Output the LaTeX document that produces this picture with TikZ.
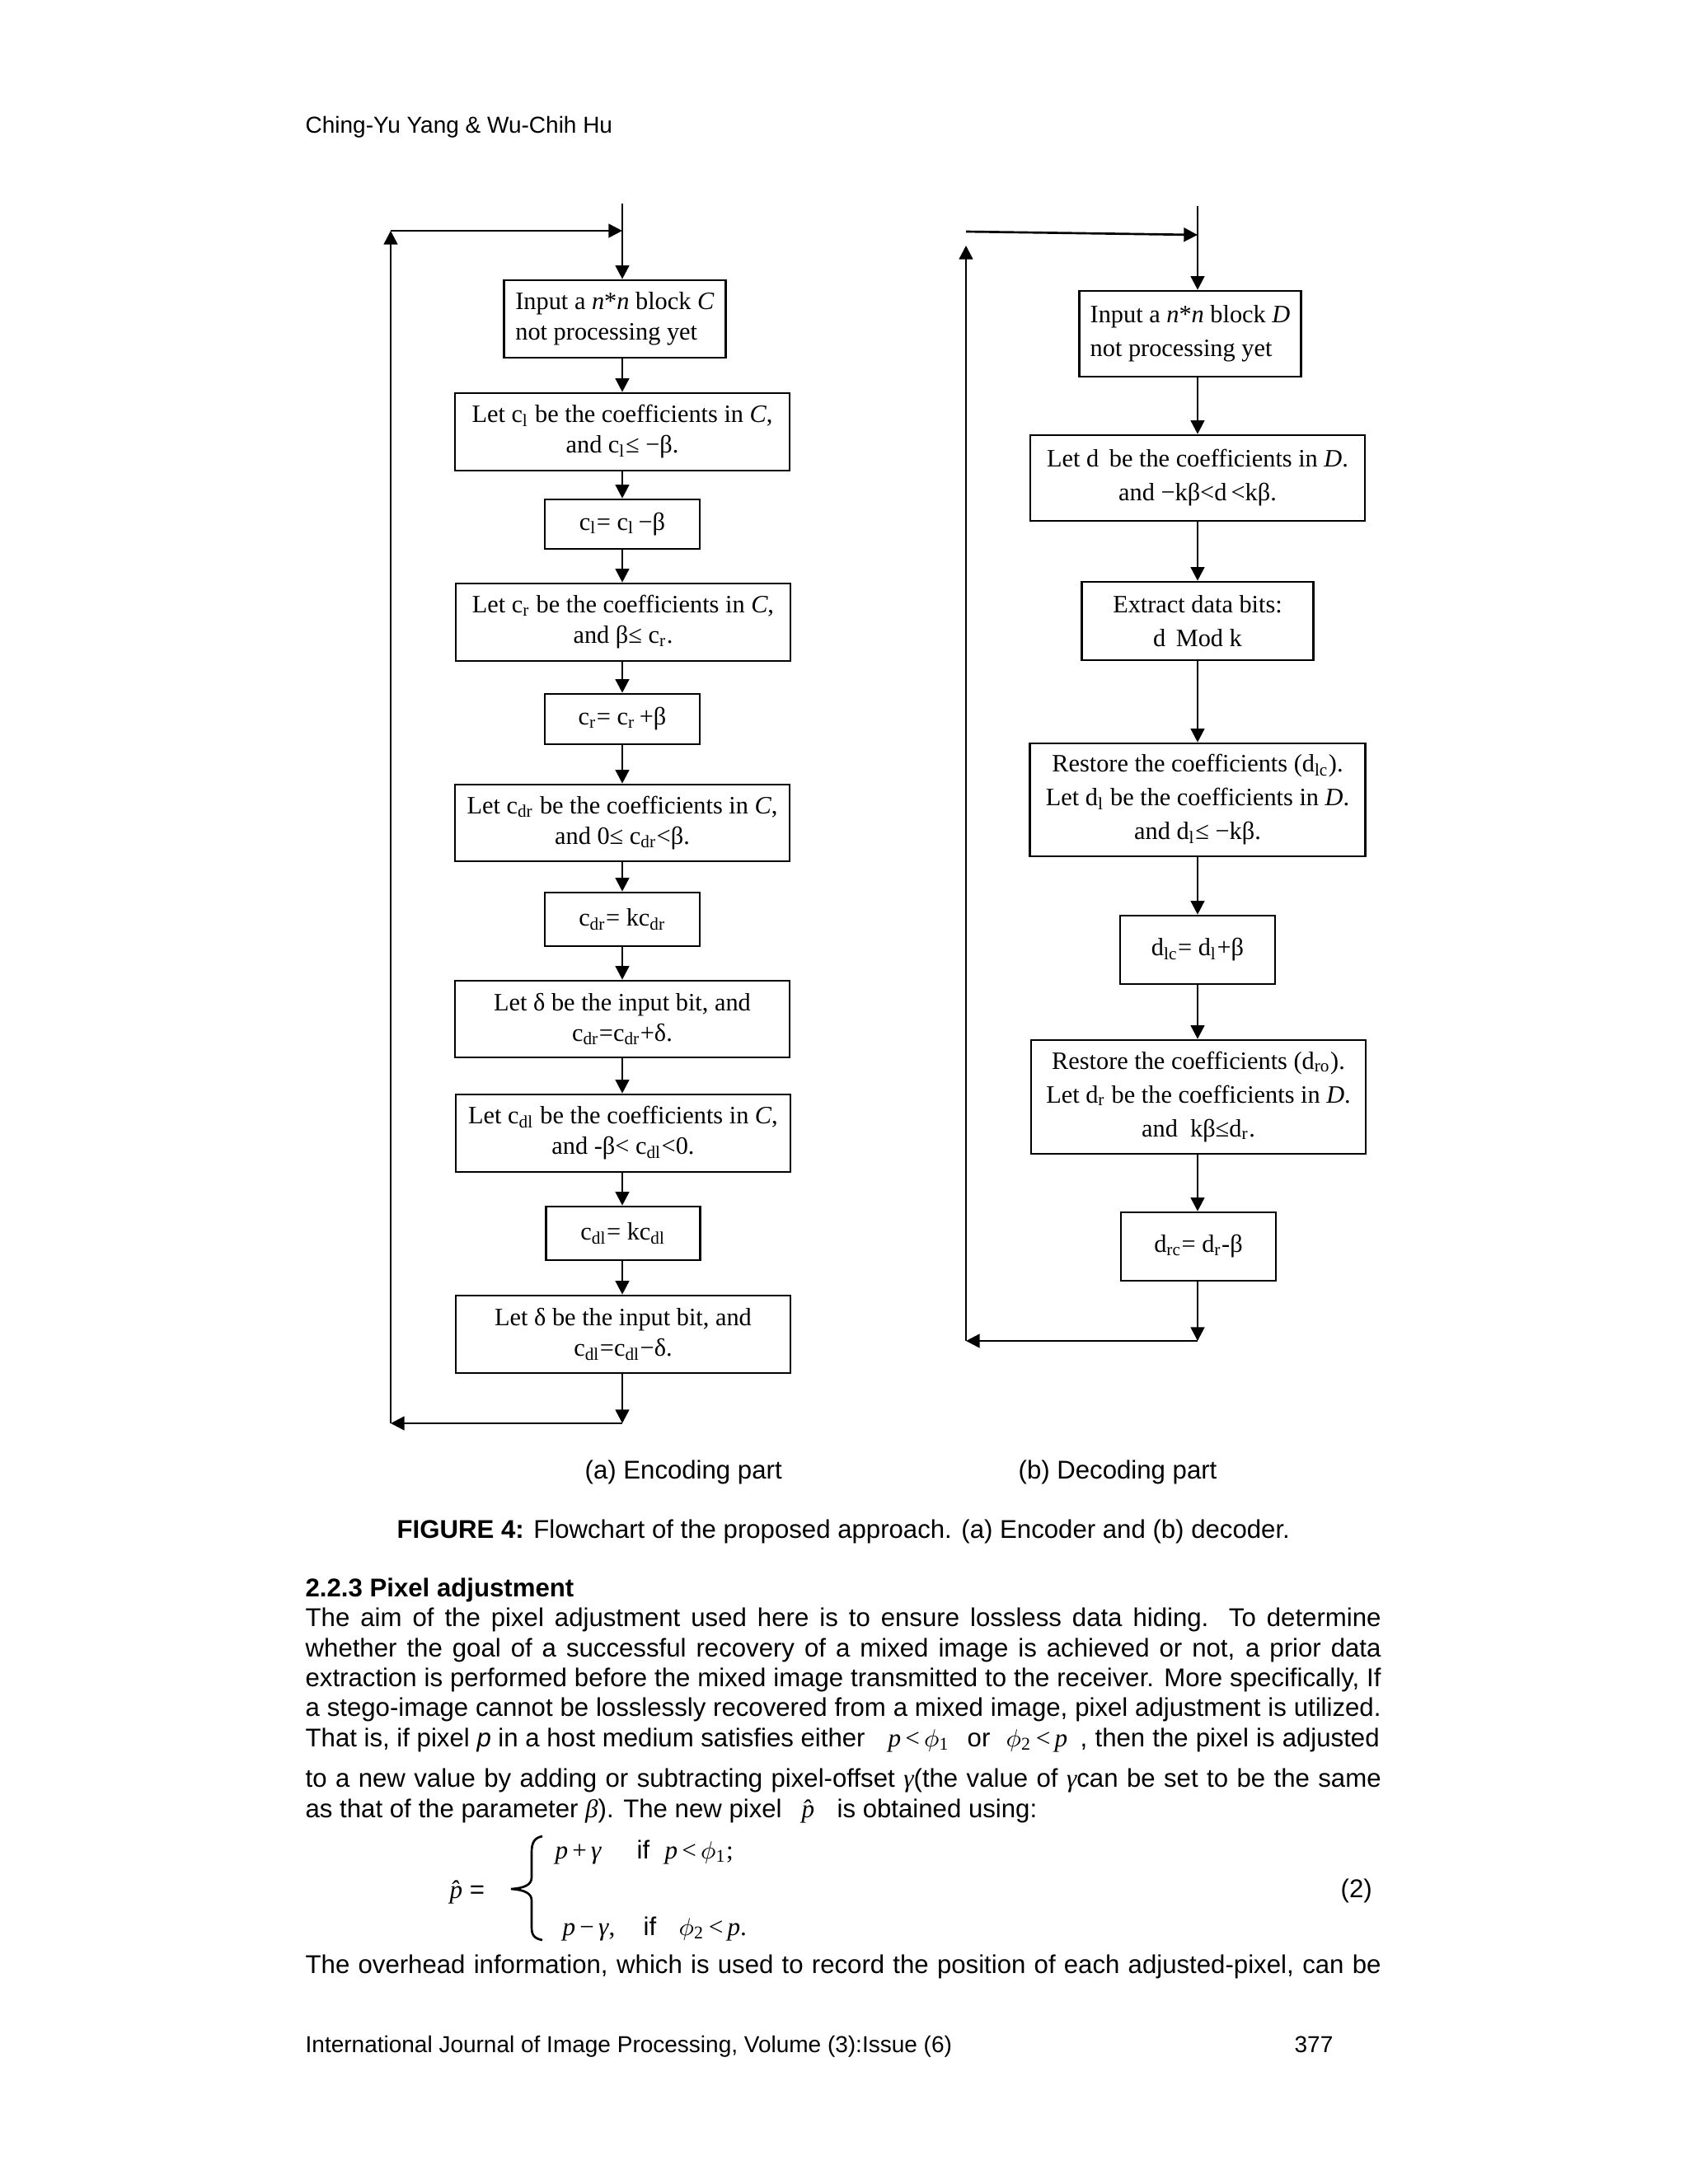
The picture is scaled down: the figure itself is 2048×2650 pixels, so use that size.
\documentclass[tikz,border=0pt]{standalone}
\usepackage{fontspec}
\setmainfont{Liberation Sans}
\newfontfamily\serif{Liberation Serif}
\usetikzlibrary{arrows.meta}
\newcommand\tsit[1]{{\serif\itshape #1}}
\newcommand\tsrm[1]{{\serif #1}}
\newcommand\tphi{\ensuremath{\phi}}
\tikzset{
 bx/.style 2 args={draw, line width=0.8pt, minimum width=#1*0.3pt, minimum height=#2*0.3pt, inner sep=0pt, align=center},
 lf/.style={font=\serif\fontsize{9.1}{11.1}\selectfont},
 rf/.style={font=\serif\fontsize{9.1}{12.3}\selectfont},
 arr/.style={line width=0.8pt, -{Triangle[length=5pt,width=5pt]}},
 ln/.style={line width=0.8pt},
 body/.style={inner sep=0pt, anchor=base west, font=\fontsize{9.35}{11}\selectfont},
 smalltxt/.style={inner sep=0pt, anchor=base west, font=\fontsize{8.4}{10}\selectfont},
}
\begin{document}
\begin{tikzpicture}[x=0.3pt,y=-0.3pt]
\fill[white] (0,0) rectangle (2048,2650);
\useasboundingbox (0,0) rectangle (2048,2650);

% header
\node[smalltxt] (hdr) at (370,161) {Ching-Yu Yang \& Wu-Chih Hu};

% ---------------- left flowchart ----------------
\node[bx={269}{94}, lf, align=left] (B1) at (746,387) {Input a \textit{n}*\textit{n} block \textit{C}\\not processing yet};
\node[bx={406}{94}, lf] (B2) at (755,524) {Let c\textsubscript{l} be the coefficients in \textit{C},\\and c\textsubscript{l}≤ −β.};
\node[bx={188}{60}, lf] (B3) at (755,636) {c\textsubscript{l}=\ c\textsubscript{l}\,−β};
\node[bx={406}{94}, lf] (B4) at (756,755) {Let c\textsubscript{r} be the coefficients in \textit{C},\\and β≤ c\textsubscript{r}.};
\node[bx={188}{61}, lf] (B5) at (755,872.5) {c\textsubscript{r}=\ c\textsubscript{r}\,+β};
\node[bx={406}{93}, lf] (B6) at (755,998.5) {Let c\textsubscript{dr} be the coefficients in \textit{C},\\and 0≤ c\textsubscript{dr}<β.};
\node[bx={188}{65}, lf] (B7) at (755,1115.5) {c\textsubscript{dr}=\ kc\textsubscript{dr}};
\node[bx={406}{93}, lf] (B8) at (755,1236.5) {Let δ be the input bit, and\\c\textsubscript{dr}=c\textsubscript{dr}+δ.};
\node[bx={406}{94}, lf] (B9) at (756,1375) {Let c\textsubscript{dl} be the coefficients in \textit{C},\\and -β< c\textsubscript{dl}<0.};
\node[bx={187}{65}, lf] (B10) at (756,1496.5) {c\textsubscript{dl}=\ kc\textsubscript{dl}};
\node[bx={406}{94}, lf] (B11) at (756,1619) {Let δ be the input bit, and\\c\textsubscript{dl}=c\textsubscript{dl}−δ.};

\coordinate (Ltop) at (755,247);
\coordinate (Lin) at (755,280);
\coordinate (Ltl) at (474,280);
\coordinate (Lbot) at (755,1727);
\coordinate (Lbl) at (474,1727);

\draw[arr] (Ltop) -- (B1.north -| Ltop);
\draw[arr] (B1.south -| Ltop) -- (B2.north -| Ltop);
\draw[arr] (B2.south -| Ltop) -- (B3.north -| Ltop);
\draw[arr] (B3.south -| Ltop) -- (B4.north -| Ltop);
\draw[arr] (B4.south -| Ltop) -- (B5.north -| Ltop);
\draw[arr] (B5.south -| Ltop) -- (B6.north -| Ltop);
\draw[arr] (B6.south -| Ltop) -- (B7.north -| Ltop);
\draw[arr] (B7.south -| Ltop) -- (B8.north -| Ltop);
\draw[arr] (B8.south -| Ltop) -- (B9.north -| Ltop);
\draw[arr] (B9.south -| Ltop) -- (B10.north -| Ltop);
\draw[arr] (B10.south -| Ltop) -- (B11.north -| Ltop);
\draw[arr] (B11.south -| Ltop) -- (Lbot);
\draw[arr] (Lbot) -- (Lbl);
\draw[arr] (Lbl) -- (Ltl);
\draw[arr] (Ltl) -- (Lin);

% ---------------- right flowchart ----------------
\node[bx={269}{104}, rf, align=left] (R1) at (1444,405) {Input a \textit{n}*\textit{n} block \textit{D}\\not processing yet};
\node[bx={406}{104}, rf] (R2) at (1453,580) {Let d\, be the coefficients in \textit{D}.\\and −kβ<d\,<kβ.};
\node[bx={281}{95}, rf] (R3) at (1453,753.5) {Extract data bits:\\d\, Mod k};
\node[bx={407}{137}, rf] (R4) at (1453,970.5) {Restore the coefficients (d\textsubscript{lc}).\\Let d\textsubscript{l} be the coefficients in \textit{D}.\\and d\textsubscript{l}≤ −kβ.};
\node[bx={188}{83}, rf] (R5) at (1453,1152.5) {d\textsubscript{lc}=\ d\textsubscript{l}+β};
\node[bx={406}{138}, rf] (R6) at (1454,1331) {Restore the coefficients (d\textsubscript{ro}).\\Let d\textsubscript{r} be the coefficients in \textit{D}.\\and\ \ kβ≤d\textsubscript{r}.};
\node[bx={188}{83}, rf] (R7) at (1454,1512.5) {d\textsubscript{rc}=\ d\textsubscript{r}-β};

\coordinate (Rtop) at (1453,250);
\coordinate (Rin) at (1453,285);
\coordinate (Rtl) at (1172,281);
\coordinate (Rtu) at (1172,298);
\coordinate (Rbot) at (1453,1627);
\coordinate (Rbl) at (1172,1627);

\draw[arr] (Rtop) -- (R1.north -| Rtop);
\draw[arr] (R1.south -| Rtop) -- (R2.north -| Rtop);
\draw[arr] (R2.south -| Rtop) -- (R3.north -| Rtop);
\draw[arr] (R3.south -| Rtop) -- (R4.north -| Rtop);
\draw[arr] (R4.south -| Rtop) -- (R5.north -| Rtop);
\draw[arr] (R5.south -| Rtop) -- (R6.north -| Rtop);
\draw[arr] (R6.south -| Rtop) -- (R7.north -| Rtop);
\draw[arr] (R7.south -| Rtop) -- (Rbot);
\draw[arr] (Rbot) -- (Rbl);
\draw[arr] (Rbl) -- (Rtu);
\draw[arr] (Rtl) -- (Rin);

% ---------------- captions ----------------
\node[body] (capa) at (709,1794) {(a) Encoding part};
\node[body] (capb) at (1235,1794) {(b) Decoding part};
\node[body] (fig) at (481,1866) {\textbf{FIGURE 4:} Flowchart of the proposed approach. (a) Encoder and (b) decoder.};

% ---------------- text ----------------
\node[body] (h) at (370,1937) {\textbf{2.2.3 Pixel adjustment}};
\node[body] (t1) at (370,1973) {\makebox[391.5pt][s]{The aim of the pixel adjustment used here is to ensure lossless data hiding. To determine}};
\node[body] (t2) at (370,2010) {\makebox[391.5pt][s]{whether the goal of a successful recovery of a mixed image is achieved or not, a prior data}};
\node[body] (t3) at (370,2046) {\makebox[391.5pt][s]{extraction is performed before the mixed image transmitted to the receiver. More specifically, If}};
\node[body] (t4) at (370,2082) {\makebox[391.5pt][s]{a stego-image cannot be losslessly recovered from a mixed image, pixel adjustment is utilized.}};
\node[body] (t5a) at (370,2119) {\makebox[203.7pt][s]{That is, if pixel \textit{p} in a host medium satisfies either}};
\node[body] (t5b) at (1077,2119) {\tsit{p}\,\tsrm{<}\,\tphi\tsrm{\textsubscript{1}}};
\node[body] (t5c) at (1173,2119) {or};
\node[body] (t5d) at (1220,2119) {\tphi\tsrm{\textsubscript{2}}\,\tsrm{<}\,\tsit{p}};
\node[body] (t5e) at (1310,2119) {\makebox[108.9pt][s]{, then the pixel is adjusted}};
\node[body] (t6) at (370,2168) {\makebox[391.5pt][s]{to a new value by adding or subtracting pixel-offset \tsit{γ}(the value of \tsit{γ}can be set to be the same}};
\node[body] (t7a) at (370,2205) {as that of the parameter \tsit{β}). The new pixel};
\node[body] (t7b) at (972,2205) {\tsit{\^p}};
\node[body] (t7c) at (1015,2205) {is obtained using:};

% equation
\node[body] (phat) at (545,2303) {\tsit{\^p} =};
\draw[line width=0.8pt] (658,2228) .. controls (648,2230) and (645,2236) .. (645,2248) -- (645,2278) .. controls (645,2287) and (636,2291) .. (620,2292) .. controls (636,2293) and (645,2297) .. (645,2306) -- (645,2338) .. controls (645,2348) and (648,2352) .. (658,2354);
\node[body] (e1a) at (673,2255) {\tsit{p}\,\tsrm{+}\,\tsit{γ}};
\node[body] (e1b) at (772,2255) {if};
\node[body] (e1c) at (806,2255) {\tsit{p}\,\tsrm{<}\,\tphi\tsrm{\textsubscript{1};}};
\node[body] (e2a) at (682,2348) {\tsit{p}\,\tsrm{−}\,\tsit{γ}\tsrm{,}};
\node[body] (e2b) at (780,2348) {if};
\node[body] (e2c) at (823,2348) {\tphi\tsrm{\textsubscript{2}}\,\tsrm{<}\,\tsit{p}\tsrm{.}};
\node[body] (eqn) at (1626,2302) {(2)};
\node[body] (t8) at (370,2394) {\makebox[391.5pt][s]{The overhead information, which is used to record the position of each adjusted-pixel, can be}};

% footer
\node[smalltxt] (foot) at (370,2490) {International Journal of Image Processing, Volume (3):Issue (6)};
\node[smalltxt, anchor=base east] (pg) at (1618,2490) {377};
\end{tikzpicture}
\end{document}
